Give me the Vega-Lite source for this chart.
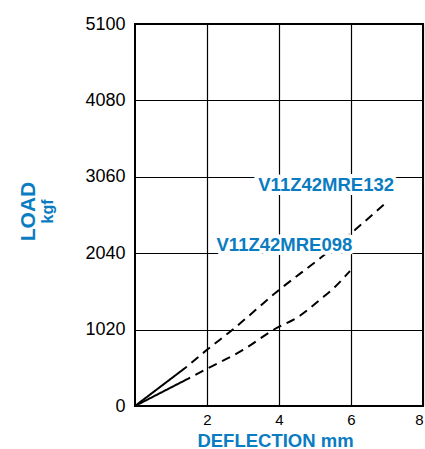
{
  "$schema": "https://vega.github.io/schema/vega-lite/v6.json",
  "width": 288,
  "height": 382,
  "autosize": {"type": "none"},
  "padding": {"left": 135, "top": 24, "right": 2, "bottom": 43},
  "background": "white",
  "config": {
    "font": "Liberation Sans",
    "view": {"stroke": "#000", "strokeWidth": 2},
    "axis": {
      "domain": false,
      "ticks": false,
      "grid": true,
      "gridColor": "#000",
      "gridOpacity": 1,
      "gridWidth": 1.2,
      "labelColor": "#000",
      "labelFont": "Liberation Sans",
      "titleFont": "Liberation Sans",
      "titleColor": "#0a7cc1",
      "titleFontWeight": "bold"
    }
  },
  "datasets": {
    "curves": [
      {"series": "V11Z42MRE132", "segment": "measured", "deflection": 0, "load": 0},
      {"series": "V11Z42MRE132", "segment": "measured", "deflection": 1.44, "load": 525},
      {"series": "V11Z42MRE132", "segment": "extrapolated", "deflection": 1.44, "load": 525},
      {"series": "V11Z42MRE132", "segment": "extrapolated", "deflection": 2.0, "load": 750},
      {"series": "V11Z42MRE132", "segment": "extrapolated", "deflection": 2.7, "load": 1015},
      {"series": "V11Z42MRE132", "segment": "extrapolated", "deflection": 4.0, "load": 1549},
      {"series": "V11Z42MRE132", "segment": "extrapolated", "deflection": 5.15, "load": 1975},
      {"series": "V11Z42MRE132", "segment": "extrapolated", "deflection": 6.05, "load": 2327},
      {"series": "V11Z42MRE132", "segment": "extrapolated", "deflection": 6.97, "load": 2714},
      {"series": "V11Z42MRE098", "segment": "measured", "deflection": 0, "load": 0},
      {"series": "V11Z42MRE098", "segment": "measured", "deflection": 1.53, "load": 378},
      {"series": "V11Z42MRE098", "segment": "extrapolated", "deflection": 1.53, "load": 378},
      {"series": "V11Z42MRE098", "segment": "extrapolated", "deflection": 1.95, "load": 485},
      {"series": "V11Z42MRE098", "segment": "extrapolated", "deflection": 3.0, "load": 748},
      {"series": "V11Z42MRE098", "segment": "extrapolated", "deflection": 3.85, "load": 1018},
      {"series": "V11Z42MRE098", "segment": "extrapolated", "deflection": 4.58, "load": 1205},
      {"series": "V11Z42MRE098", "segment": "extrapolated", "deflection": 5.14, "load": 1420},
      {"series": "V11Z42MRE098", "segment": "extrapolated", "deflection": 5.56, "load": 1593},
      {"series": "V11Z42MRE098", "segment": "extrapolated", "deflection": 5.97, "load": 1802}
    ],
    "labels": [
      {"label": "V11Z42MRE132", "deflection": 5.31, "load": 2874},
      {"label": "V11Z42MRE098", "deflection": 4.15, "load": 2073}
    ]
  },
  "layer": [
    {
      "data": {"name": "curves"},
      "mark": {"type": "line", "color": "#000", "strokeWidth": 2, "interpolate": "monotone", "strokeDashOffset": 9},
      "encoding": {
        "x": {
          "field": "deflection",
          "type": "quantitative",
          "scale": {"domain": [0, 8], "nice": false, "zero": false},
          "axis": {
            "values": [2, 4, 6, 8],
            "format": "d",
            "title": "DEFLECTION mm",
            "labelFontSize": 15,
            "labelPadding": 6,
            "titleFontSize": 18.5,
            "titleX": 140,
            "titleY": 40,
            "titleAlign": "center",
            "titleBaseline": "alphabetic"
          }
        },
        "y": {
          "field": "load",
          "type": "quantitative",
          "scale": {"domain": [0, 5100], "nice": false},
          "axis": {
            "values": [0, 1020, 2040, 3060, 4080, 5100],
            "format": "d",
            "title": "LOAD",
            "labelFontSize": 18,
            "labelPadding": 10,
            "titleFontSize": 21,
            "titleAngle": 270,
            "titleX": -101,
            "titleY": 187,
            "titleAlign": "center",
            "titleBaseline": "alphabetic"
          }
        },
        "detail": {"field": "series", "type": "nominal"},
        "strokeDash": {
          "field": "segment",
          "type": "nominal",
          "scale": {"domain": ["measured", "extrapolated"], "range": [[1, 0], [9, 6]]},
          "legend": null
        },
        "order": {"field": "deflection", "type": "quantitative"}
      }
    },
    {
      "data": {"name": "labels"},
      "mark": {"type": "text", "fontSize": 18.5, "fontWeight": "bold", "align": "center", "baseline": "alphabetic", "fill": "white", "stroke": "white", "strokeWidth": 8, "strokeJoin": "round"},
      "encoding": {
        "x": {"field": "deflection", "type": "quantitative"},
        "y": {"field": "load", "type": "quantitative"},
        "text": {"field": "label", "type": "nominal"}
      }
    },
    {
      "data": {"name": "labels"},
      "mark": {"type": "text", "fontSize": 18.5, "fontWeight": "bold", "align": "center", "baseline": "alphabetic", "color": "#0a7cc1"},
      "encoding": {
        "x": {"field": "deflection", "type": "quantitative"},
        "y": {"field": "load", "type": "quantitative"},
        "text": {"field": "label", "type": "nominal"}
      }
    },
    {
      "data": {"values": [{"unit": "kgf"}]},
      "mark": {"type": "text", "fontSize": 16, "fontWeight": "bold", "align": "center", "baseline": "alphabetic", "angle": 270, "color": "#0a7cc1"},
      "encoding": {
        "x": {"datum": -2.27, "type": "quantitative"},
        "y": {"datum": 2597, "type": "quantitative"},
        "text": {"field": "unit", "type": "nominal"}
      }
    }
  ]
}
